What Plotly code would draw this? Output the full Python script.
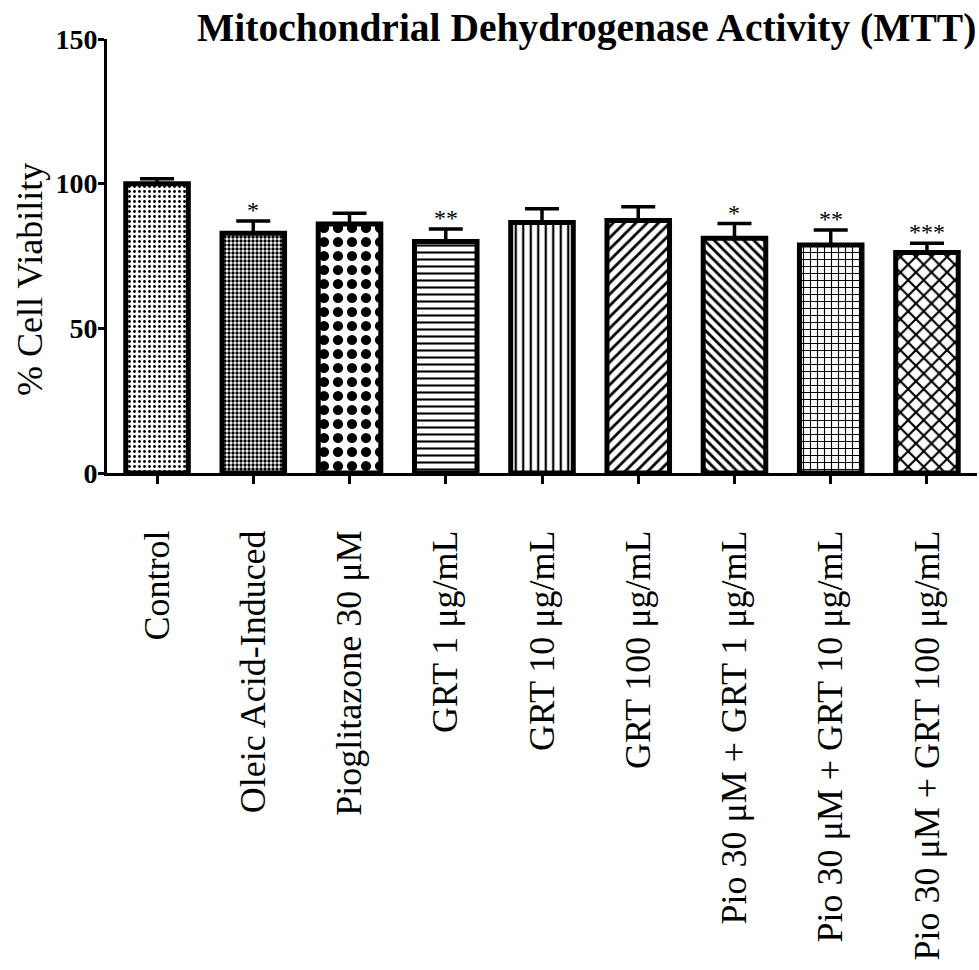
import plotly.graph_objects as go

categories = [
    "Control",
    "Oleic Acid-Induced",
    "Pioglitazone 30 μM",
    "GRT 1 μg/mL",
    "GRT 10 μg/mL",
    "GRT 100 μg/mL",
    "Pio 30 μM + GRT 1 μg/mL",
    "Pio 30 μM + GRT 10 μg/mL",
    "Pio 30 μM + GRT 100 μg/mL",
]
viability = [100.0, 82.9, 86.1, 80.0, 86.6, 87.3, 81.1, 78.8, 76.2]
sem = [1.7, 4.2, 3.7, 4.3, 4.7, 4.7, 5.1, 5.2, 3.2]
significance = ["", "*", "", "**", "", "", "*", "**", "***"]

patterns = [
    dict(shape=".", size=5, solidity=0.25),
    dict(shape=".", size=4, solidity=0.55),
    dict(shape=".", size=14, solidity=0.42),
    dict(shape="-", size=7, solidity=0.3),
    dict(shape="|", size=7.5, solidity=0.3),
    dict(shape="/", size=8, solidity=0.35),
    dict(shape="\\", size=7, solidity=0.4),
    dict(shape="+", size=7, solidity=0.3),
    dict(shape="x", size=11, solidity=0.35),
]

FONT = "Liberation Serif"

fig = go.Figure()
for i, (cat, v, e) in enumerate(zip(categories, viability, sem)):
    p = dict(patterns[i])
    p.update(fgcolor="black", bgcolor="white", fillmode="replace", fgopacity=1)
    fig.add_trace(go.Bar(
        x=[cat], y=[v],
        width=0.65,
        marker=dict(color="white", pattern=p, line=dict(color="black", width=5)),
        error_y=dict(type="data", array=[e], arrayminus=[0], symmetric=False,
                     color="black", thickness=3.5, width=17),
        showlegend=False,
    ))

for cat, v, e, s in zip(categories, viability, sem, significance):
    if s:
        fig.add_annotation(x=cat, y=v + e, text=s, showarrow=False,
                           yanchor="bottom", yshift=-4,
                           font=dict(family=FONT, size=24, color="black"))

fig.add_annotation(xref="paper", yref="paper", x=(586 - 107) / 870, y=(473 - 28) / 434,
                   text="<b>Mitochondrial Dehydrogenase Activity (MTT)</b>",
                   showarrow=False, xanchor="center", yanchor="middle",
                   font=dict(family=FONT, size=39.5, color="black"))

fig.add_annotation(xref="paper", yref="paper", x=(30 - 107) / 870, y=(473 - 280) / 434,
                   text="% Cell Viability", textangle=-90,
                   showarrow=False, xanchor="center", yanchor="middle",
                   font=dict(family=FONT, size=36, color="black"))

fig.update_layout(
    width=979, height=970,
    margin=dict(l=107, r=2, t=39, b=497),
    plot_bgcolor="white", paper_bgcolor="white",
    bargap=0.35,
    font=dict(family=FONT, color="black"),
)
fig.update_xaxes(
    range=[-0.52, 8.52],
    showline=True, linecolor="black", linewidth=3,
    ticks="outside", ticklen=8, tickwidth=2.5, tickcolor="black",
    tickangle=-90, ticklabelstandoff=32,
    tickfont=dict(family=FONT, size=36, color="black"),
    showgrid=False, zeroline=False,
)
fig.update_yaxes(
    range=[0, 150], tickvals=[0, 50, 100, 150],
    showline=True, linecolor="black", linewidth=3,
    ticks="outside", ticklen=6, tickwidth=3, tickcolor="black",
    ticklabelstandoff=-5,
    tickfont=dict(family=FONT, size=28, color="black", weight="bold"),
    showgrid=False, zeroline=False,
)

fig.write_html("out.html")
